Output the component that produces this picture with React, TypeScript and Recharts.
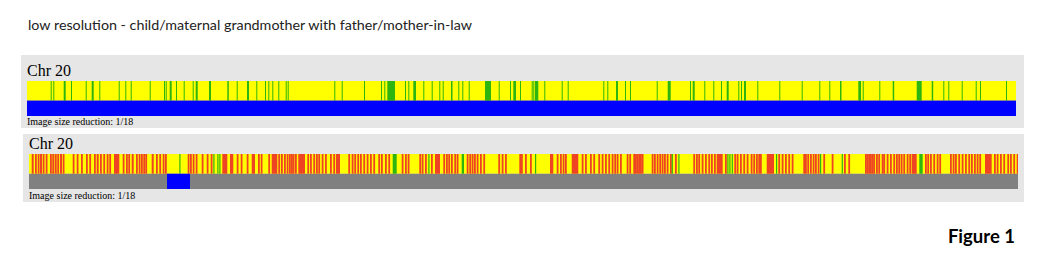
import React from 'react'
import { ComposedChart, XAxis, YAxis, ReferenceArea, Line } from 'recharts'

// chromosome 20 drawn in 989 bins (image size reduction 1/18)
const CHR_LEN = 989

type Stripe = [number, number] // [start bin, length in bins]

const title = 'low resolution - child/maternal grandmother with father/mother-in-law'
const chrLabel = 'Chr 20'
const caption = 'Image size reduction: 1/18'

// panel 1: child vs maternal grandmother
const p1Green: Stripe[] = [
  [23.7, 1], [26.3, 1], [36.7, 2], [44, 1], [58.7, 1], [64.7, 2], [72.3, 1], [91.7, 1], [98.3, 1], [103.7, 1],
  [122.7, 1], [137, 1], [138.7, 1], [142.7, 2], [149, 1], [156.7, 1], [165.7, 1], [168.7, 2], [182, 2], [200.3, 1.5],
  [209.7, 1], [220, 2], [229.3, 1], [238, 1], [241.3, 1], [245.3, 1], [251.3, 1], [258.7, 1], [260.7, 1], [307.3, 1],
  [314.7, 1], [337, 1], [354, 1], [357.3, 1], [360.3, 7.7], [378, 1], [381.3, 1], [386.3, 2.7], [396.3, 1], [404.7, 1],
  [412.3, 1], [415.7, 1], [424, 1.5], [431.3, 1], [435.3, 1], [441.7, 1], [458, 6], [471.7, 1], [483, 1], [486.3, 2.7],
  [493, 1], [504.7, 1], [506.3, 1], [508, 3.3], [517.3, 1], [534.7, 1], [540.7, 1], [576.3, 1], [580.3, 1], [589, 2],
  [598, 1], [603, 1], [629.7, 1], [640.7, 3], [663, 1], [665.7, 2], [677.3, 1], [686.3, 1], [694, 1], [699.7, 2],
  [711.3, 1], [714, 1], [717, 2], [730.3, 1], [752.3, 1], [774.7, 1], [792.3, 1], [802.3, 1], [813, 1.5], [831.3, 2.7],
  [835.7, 1], [852.3, 1], [865.7, 1.5], [889.7, 5], [904.7, 1.5], [916.3, 1], [921.3, 1], [934.7, 1], [948.7, 1], [953, 1],
  [979, 1],
]
const p1Red: Stripe[] = []
const p1Blue: Stripe[] = [[0, CHR_LEN]]

// panel 2: father vs mother-in-law
const p2Red: Stripe[] = [
  [2.7, 2], [6, 1.8], [8.7, 1.8], [11, 2], [13.7, 1.8], [16.7, 1.8], [21, 1.8], [23.3, 1.8], [25.7, 2], [28.3, 1.8],
  [31, 2], [33.7, 1.8], [43.7, 1.8], [47.7, 1.8], [52, 1.8], [57, 1.8], [60.3, 1.8], [65, 1.8], [67.7, 2], [71, 1.8],
  [74.3, 1.8], [77.7, 1.8], [80.3, 1.8], [85, 5.3], [93.7, 1.8], [97, 1.8], [99.3, 1.8], [102.7, 2], [107, 1.8], [109.7, 1.8],
  [112, 1.8], [114.3, 1.8], [116.3, 1.8], [122.7, 2], [127, 1.8], [130.3, 1.8], [133.7, 1.8], [136, 1.8], [158.7, 1.8], [161, 1.8],
  [163.7, 1.8], [166.7, 1.8], [172.7, 1.8], [177.7, 1.8], [181.7, 1.8], [193.3, 5], [201, 3.3], [207.7, 1.8], [211.7, 1.8], [217.7, 1.8],
  [222.7, 3.3], [229, 1.8], [231.7, 1.8], [239.3, 1.8], [242.7, 5.6], [249.3, 1.8], [252, 1.8], [255, 1.8], [257.7, 1.8], [260, 1.8],
  [262, 1.8], [263.7, 1.8], [266, 1.8], [269.3, 6.7], [278.3, 1.8], [281, 1.8], [284.3, 1.8], [287, 1.8], [289.3, 1.8], [292.7, 1.8],
  [296, 1.8], [301, 1.8], [304.3, 1.8], [307, 4], [319.3, 1.8], [322.7, 1.8], [325.3, 1.8], [328.3, 1.8], [331, 1.8], [334.3, 1.8],
  [337.7, 1.8], [341, 1.8], [344.3, 1.8], [349.3, 1.8], [352, 1.8], [356, 1.8], [359.3, 1.8], [372.7, 1.8], [376, 1.8], [378.7, 1.8],
  [390.3, 1.8], [392.7, 1.8], [396, 1.8], [402, 1.8], [406, 5], [414.3, 1.8], [417, 1.8], [419.3, 1.8], [422, 1.8], [425.3, 1.8],
  [427.7, 1.8], [437.7, 1.8], [440.3, 1.8], [442.7, 1.8], [445, 1.8], [447.7, 1.8], [451, 1.8], [454.3, 1.8], [469.3, 1.8], [472.7, 1.8],
  [476, 1.8], [490.3, 3.5], [496, 1.8], [501, 1.8], [521, 3.3], [527.7, 1.8], [531, 1.8], [533.7, 1.8], [536, 1.8], [542.7, 6.6],
  [552.7, 1.8], [556, 1.8], [561, 1.8], [564.3, 1.8], [569.3, 1.8], [572.7, 1.8], [576, 1.8], [579.3, 1.8], [582.7, 1.8], [585.3, 1.8],
  [587.7, 1.8], [591, 1.8], [597.7, 1.8], [600.3, 1.8], [604.3, 1.8], [606, 1.8], [607.7, 1.8], [609.3, 1.8], [611, 1.8], [612.7, 1.8],
  [622.7, 1.8], [625, 1.8], [627.7, 1.8], [630.3, 1.8], [632.7, 1.8], [635, 1.8], [637.7, 1.8], [641, 1.8], [646, 1.8], [664.3, 1.8],
  [667, 1.8], [669.3, 1.8], [672.7, 1.8], [676, 1.8], [679.3, 1.8], [682, 1.8], [685, 1.8], [687.7, 6], [696, 1.8], [705.3, 1.8],
  [707.7, 1.8], [711, 1.8], [714.3, 1.8], [717.7, 1.8], [721.7, 1.8], [724.3, 1.8], [727, 1.8], [729.3, 1.8], [731, 1.8], [737.7, 7.3],
  [749.3, 1.8], [752.7, 1.8], [756, 1.8], [759.3, 1.8], [762.7, 1.8], [774.3, 1.8], [776, 1.8], [778.3, 1.8], [781, 1.8], [783.7, 1.8],
  [786, 1.8], [788.7, 1.8], [794.3, 1.8], [802.7, 1.8], [815, 1.8], [819.3, 1.8], [836, 1.8], [837.7, 1.8], [839.3, 1.8], [841, 1.8],
  [842.7, 1.8], [844.3, 1.8], [847, 1.8], [849.3, 1.8], [852.7, 1.8], [854.3, 1.8], [857.7, 1.8], [861, 1.8], [864.3, 1.8], [867, 1.8],
  [869.3, 1.8], [871.7, 1.8], [874.3, 1.8], [877.7, 1.8], [880.3, 1.8], [882.7, 5], [896, 1.8], [898.3, 1.8], [901, 1.8], [904.3, 1.8],
  [907.7, 1.8], [910.3, 1.8], [921, 1.8], [923.7, 1.8], [926, 1.8], [929.3, 1.8], [932.7, 1.8], [936, 1.8], [939.3, 1.8], [942, 1.8],
  [945, 1.8], [947.7, 1.8], [950.3, 1.8], [956, 6.7], [965, 1.8], [967.7, 1.8], [971, 1.8], [974.3, 1.8], [978.3, 1.8], [981, 1.8],
  [984.3, 1.8], [987.7, 1.3],
]
const p2Green: Stripe[] = [
  [150.3, 1.2], [184.3, 1.2], [188.3, 1.2], [190.3, 1.2], [363.7, 4], [399.3, 1.2], [432.7, 2.3], [506, 1.2], [642.7, 1.2],
  [649.3, 1.2], [698.3, 1.2], [700.3, 1.2], [702.7, 1.2], [747, 1.2], [791, 1.2], [812.7, 1.2], [890.3, 3.4],
]
const p2Blue: Stripe[] = [[138, 23]]

const colors = {
  yellow: '#FFFF00',
  green: '#2FB50F',
  red: '#EE4424',
  blue: '#0000FF',
  gray: '#808080',
  panel: '#E6E6E6',
}

// lower track occupies y 0..SPLIT, stripe track SPLIT..1
const SPLIT = 0.435

const TrackChart = ({ green, red, blue, lowerBase }: { green: Stripe[]; red: Stripe[]; blue: Stripe[]; lowerBase: string }) => {
  const ends = [{ pos: 0, y: 0 }, { pos: CHR_LEN, y: 1 }]
  return (
    <ComposedChart width={989} height={35} data={ends} margin={{ top: 0, right: 0, bottom: 0, left: 0 }}>
      <XAxis dataKey="pos" type="number" domain={[0, CHR_LEN]} hide />
      <YAxis type="number" domain={[0, 1]} hide />
      <Line dataKey="y" stroke="none" dot={false} activeDot={false} isAnimationActive={false} />
      <ReferenceArea x1={0} x2={CHR_LEN} y1={SPLIT} y2={1} fill={colors.yellow} fillOpacity={1} stroke="none" />
      <ReferenceArea x1={0} x2={CHR_LEN} y1={0} y2={SPLIT} fill={lowerBase} fillOpacity={1} stroke="none" />
      {red.map(([s, w], i) => (
        <ReferenceArea key={'r' + i} x1={s} x2={s + w} y1={SPLIT} y2={1} fill={colors.red} fillOpacity={1} stroke="none" />
      ))}
      {green.map(([s, w], i) => (
        <ReferenceArea key={'g' + i} x1={s} x2={s + w} y1={SPLIT} y2={1} fill={colors.green} fillOpacity={1} stroke="none" />
      ))}
      {blue.map(([s, w], i) => (
        <ReferenceArea key={'b' + i} x1={s} x2={s + w} y1={0} y2={SPLIT} fill={colors.blue} fillOpacity={1} stroke="none" />
      ))}
    </ComposedChart>
  )
}

const serif = '"Liberation Serif", "Times New Roman", serif'

const Panel = ({ left, top, width, height, chartTop, labelTop, captionTop, children }: any) => (
  <div style={{ position: 'absolute', left, top, width, height, background: colors.panel }}>
    <div style={{ position: 'absolute', left: 6, top: labelTop, fontFamily: serif, fontSize: 16, lineHeight: 1, whiteSpace: 'nowrap' }}>
      {chrLabel}
    </div>
    <div style={{ position: 'absolute', left: 6, top: chartTop }}>{children}</div>
    <div style={{ position: 'absolute', left: 6, top: captionTop, fontFamily: serif, fontSize: 10, lineHeight: 1, whiteSpace: 'nowrap' }}>
      {caption}
    </div>
  </div>
)

export default function App() {
  return (
    <div style={{ position: 'absolute', left: 0, top: 0, width: 1047, height: 263, background: '#fff', overflow: 'hidden' }}>
      <div style={{ position: 'absolute', left: 28, top: 18.4, fontFamily: 'Lato, sans-serif', fontSize: 14.3, lineHeight: 1, color: '#222', whiteSpace: 'nowrap' }}>
        {title}
      </div>
      <Panel left={21} top={55} width={1003} height={73} labelTop={8} chartTop={26} captionTop={62}>
        <TrackChart green={p1Green} red={p1Red} blue={p1Blue} lowerBase={colors.blue} />
      </Panel>
      <Panel left={23} top={134} width={1001} height={68} labelTop={2} chartTop={19.5} captionTop={56.5}>
        <TrackChart green={p2Green} red={p2Red} blue={p2Blue} lowerBase={colors.gray} />
      </Panel>
      <div style={{ position: 'absolute', right: 32, top: 227, fontFamily: 'Lato, sans-serif', fontWeight: 700, fontSize: 18.5, lineHeight: 1, color: '#000', whiteSpace: 'nowrap' }}>
        Figure 1
      </div>
    </div>
  )
}
